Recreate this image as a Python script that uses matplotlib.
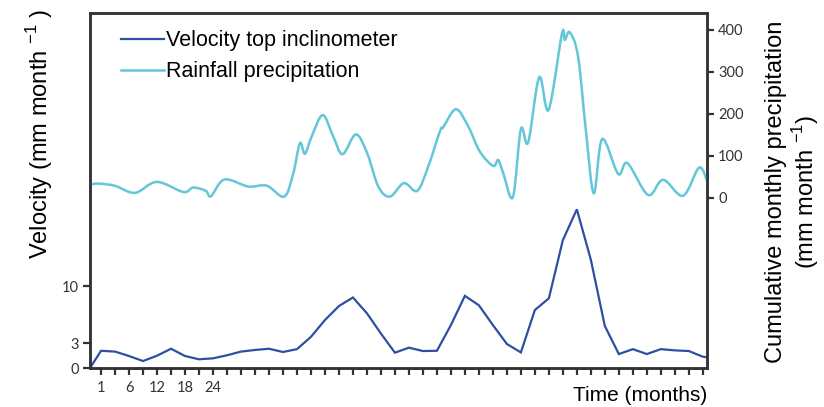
import numpy as np
import matplotlib
matplotlib.use("Agg")
import matplotlib.pyplot as plt
from matplotlib.path import Path
from matplotlib.patches import PathPatch
from matplotlib.lines import Line2D

# --- data (x in tick units, tick 0 = first labelled tick) ---
vel_x = [-0.79] + list(range(44)) + [43.3]
vel = [0, 2.1, 2.0, 1.46, 0.85, 1.5, 2.35, 1.46, 1.06, 1.18, 1.55, 2.0, 2.2, 2.35,
       1.95, 2.3, 3.8, 5.85, 7.56, 8.6, 6.67, 4.2, 1.87, 2.48, 2.07, 2.1, 5.24, 8.8,
       7.65, 5.24, 2.93, 1.9, 7.07, 8.5, 15.6, 19.35, 13.2, 5.12, 1.7, 2.3, 1.7, 2.3,
       2.15, 2.07, 1.38, 1.3]

rain_x = [-0.79, -0.19, 1.0, 2.43, 3.98, 5.88, 6.59, 7.48, 7.86, 8.81, 10.52, 11.84,
          13.09, 13.74, 14.21, 14.57, 15.05, 15.84, 16.59, 17.26, 18.21, 19.02, 19.81,
          20.64, 21.64, 22.59, 23.38, 24.21, 24.45, 25.36, 26.24, 27.07, 28.02, 28.38,
          28.74, 29.43, 30.0, 30.52, 31.31, 31.98, 32.93, 33.14, 33.5, 34.09, 34.64,
          35.21, 35.81, 36.95, 37.62, 39.09, 40.16, 41.59, 42.74, 43.36]
rain = [31, 34, 28.6, 12, 38, 14, 24.6, 16.7, 4, 43.6, 27, 29,
        3, 59, 130, 105, 146, 197, 146, 104, 151, 106, 27,
        3, 35, 16.7, 74.6, 158, 168, 211, 170, 110, 76, 90,
        59, 2, 163.5, 132, 287, 209.5, 390, 376, 394, 336, 162,
        11, 140, 57, 82.5, 7, 43, 5, 72, 35]

xtick_pos = list(range(44))
xtick_labels = {0: "1", 2: "6", 4: "12", 6: "18", 8: "24"}
vel_ticks = [0, 3, 10]
rain_ticks = [0, 100, 200, 300, 400]

VEL_COLOR = "#2f4fa2"
RAIN_COLOR = "#63c7d9"
DARK = "#333333"


def smooth_path(xs, ys):
    # Catmull-Rom through the points, as bezier segments (like a smoothed line)
    pts = np.column_stack([xs, ys]).astype(float)
    p = np.vstack([pts[0], pts, pts[-1]])
    verts = [tuple(pts[0])]
    codes = [Path.MOVETO]
    for i in range(1, len(p) - 2):
        p0, p1, p2, p3 = p[i - 1], p[i], p[i + 1], p[i + 2]
        c1 = p1 + (p2 - p0) / 6.0
        c2 = p2 - (p3 - p1) / 6.0
        verts += [tuple(c1), tuple(c2), tuple(p2)]
        codes += [Path.CURVE4] * 3
    return Path(verts, codes)


plt.rcParams["font.family"] = ["Liberation Sans", "DejaVu Sans"]

fig = plt.figure(figsize=(8.24, 4.07), dpi=100)
ax = fig.add_axes([90 / 824, 1 - 368 / 407, 617 / 824, 355 / 407])
ax2 = ax.twinx()

ax.plot(vel_x, vel, color=VEL_COLOR, lw=1.6, solid_joinstyle="miter", clip_on=True)
ax.set_xlim(-0.79, 43.3)
ax.set_ylim(0, 43.3)

ax2.add_patch(PathPatch(smooth_path(rain_x, rain), facecolor="none",
                        edgecolor=RAIN_COLOR, lw=1.8))
ax2.set_ylim(-405, 440)

# ticks
tick_font = {"family": ["Lato", "DejaVu Sans"], "size": 10.5, "color": DARK}
ax.set_xticks(xtick_pos)
ax.set_xticklabels([xtick_labels.get(i, "") for i in xtick_pos], fontdict=tick_font)
ax.set_yticks(vel_ticks)
ax.set_yticklabels([str(v) for v in vel_ticks], fontdict=tick_font)
ax2.set_yticks(rain_ticks)
ax2.set_yticklabels([str(v) for v in rain_ticks], fontdict=tick_font)

for a in (ax, ax2):
    a.tick_params(direction="out", length=5, width=1.6, color=DARK, pad=3)
    for s in a.spines.values():
        s.set_color(DARK)
        s.set_linewidth(1.8)
ax.tick_params(axis="x", pad=4)

# labels
ax.text(1.0, -0.05, "Time (months)", transform=ax.transAxes, ha="right", va="top",
        fontsize=15)
fig.text(40 / 824, 1 - 134 / 407, "Velocity (mm month $^{\\mathregular{-1}}$ )",
         rotation=90, ha="center", va="center", fontsize=17)
fig.text(793 / 824, 1 - 192 / 407,
         "Cumulative monthly precipitation\n(mm month $^{\\mathregular{-1}}$)",
         rotation=90, ha="center", va="center", fontsize=17, linespacing=1.15)

handles = [Line2D([], [], color=VEL_COLOR, lw=1.6),
           Line2D([], [], color=RAIN_COLOR, lw=1.8)]
ax.legend(handles, ["Velocity top inclinometer", "Rainfall precipitation"],
          loc="upper left", bbox_to_anchor=(0.036, 0.975), frameon=False,
          fontsize=15.5, handlelength=2.0, handletextpad=0.1, labelspacing=0.45,
          borderaxespad=0)

fig.savefig("out.png", dpi=100)
